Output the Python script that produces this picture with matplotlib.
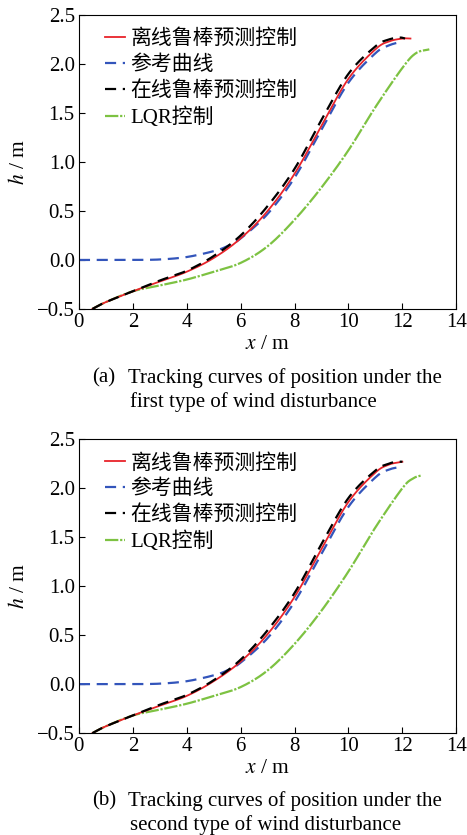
import numpy as np
import matplotlib.pyplot as plt

plt.rcParams['font.family'] = ['Liberation Serif', 'Noto Sans CJK SC']
plt.rcParams['mathtext.fontset'] = 'stix'

# panel (a) - first type of wind disturbance
ref_x_a = [0, 1, 2, 3, 4, 5, 5.5, 6, 7, 8, 9, 10, 11, 11.5, 12.0]
ref_h_a = [0, 0, 0, 0.005, 0.03, 0.09, 0.14, 0.22, 0.47, 0.84, 1.33, 1.81, 2.11, 2.19, 2.23]
off_x_a = [0.5, 1, 2, 3, 4, 5, 6, 7, 8, 9, 10, 11, 11.5, 12.0, 12.3]
off_h_a = [-0.5, -0.43, -0.32, -0.22, -0.12, 0.02, 0.22, 0.50, 0.88, 1.37, 1.85, 2.15, 2.23, 2.26, 2.26]
on_x_a = [0.5, 1, 2, 3, 4, 5, 6, 7, 8, 9, 10, 11, 11.5, 11.9, 12.1]
on_h_a = [-0.5, -0.43, -0.32, -0.21, -0.11, 0.04, 0.25, 0.55, 0.93, 1.43, 1.90, 2.18, 2.25, 2.27, 2.26]
lqr_x_a = [0.5, 1, 2, 3, 4, 5, 6, 7, 8, 9, 10, 11, 12, 12.5, 13.0]
lqr_h_a = [-0.5, -0.43, -0.32, -0.26, -0.20, -0.12, -0.03, 0.14, 0.41, 0.74, 1.12, 1.56, 1.96, 2.11, 2.15]

# panel (b) - second type of wind disturbance
ref_x_b = [0, 1, 2, 3, 4, 5, 5.5, 6, 7, 8, 9, 10, 11, 11.5, 12.0]
ref_h_b = [0, 0, 0, 0.005, 0.03, 0.09, 0.14, 0.22, 0.47, 0.84, 1.33, 1.81, 2.11, 2.19, 2.22]
off_x_b = [0.5, 1, 2, 3, 4, 5, 6, 7, 8, 9, 10, 11, 11.5, 11.8, 12.0]
off_h_b = [-0.5, -0.43, -0.32, -0.22, -0.12, 0.03, 0.23, 0.51, 0.89, 1.38, 1.86, 2.16, 2.24, 2.26, 2.27]
on_x_b = [0.5, 1, 2, 3, 4, 5, 6, 7, 8, 9, 10, 11, 11.5, 11.8, 12.0]
on_h_b = [-0.5, -0.43, -0.32, -0.21, -0.11, 0.04, 0.25, 0.55, 0.93, 1.43, 1.90, 2.18, 2.25, 2.27, 2.27]
lqr_x_b = [0.5, 1, 2, 3, 4, 5, 6, 7, 8, 9, 10, 11, 12, 12.4, 12.7]
lqr_h_b = [-0.5, -0.43, -0.32, -0.26, -0.20, -0.12, -0.03, 0.14, 0.41, 0.75, 1.15, 1.60, 2.00, 2.10, 2.13]

labels = ['离线鲁棒预测控制', '参考曲线', '在线鲁棒预测控制', 'LQR控制']
captions = [('(a)', 'Tracking curves of position under the', 'first type of wind disturbance'),
            ('(b)', 'Tracking curves of position under the', 'second type of wind disturbance')]


def smooth(x, y, n=20):
    # Catmull-Rom through the read-off points
    x = np.asarray(x, float)
    y = np.asarray(y, float)
    px = np.concatenate([[2 * x[0] - x[1]], x, [2 * x[-1] - x[-2]]])
    py = np.concatenate([[2 * y[0] - y[1]], y, [2 * y[-1] - y[-2]]])
    t = np.linspace(0, 1, n, endpoint=False)[:, None]
    out = []
    for p in (px, py):
        p0, p1, p2, p3 = p[:-3], p[1:-2], p[2:-1], p[3:]
        seg = 0.5 * (2 * p1 + (-p0 + p2) * t + (2 * p0 - 5 * p1 + 4 * p2 - p3) * t ** 2
                     + (-p0 + 3 * p1 - 3 * p2 + p3) * t ** 3)
        out.append(np.append(seg.T.ravel(), p[-2]))
    return out[0], out[1]


fig = plt.figure(figsize=(4.67, 8.35), dpi=100)
panels = [(ref_x_a, ref_h_a, off_x_a, off_h_a, on_x_a, on_h_a, lqr_x_a, lqr_h_a),
          (ref_x_b, ref_h_b, off_x_b, off_h_b, on_x_b, on_h_b, lqr_x_b, lqr_h_b)]
bottoms = [0.630, 0.122]
cap_y = [378, 801]

for i, (rx, rh, fx, fh, nx, nh, lx, lh) in enumerate(panels):
    ax = fig.add_axes([0.169, bottoms[i], 0.808, 0.352])
    ax.plot(*smooth(fx, fh), color='#e8232a', lw=1.3, label=labels[0], zorder=3)
    ax.plot(*smooth(rx, rh), color='#3355bb', lw=1.6, ls=(0, (5, 3)), label=labels[1], zorder=2)
    ax.plot(*smooth(nx, nh), color='black', lw=1.6, ls=(0, (5, 3)), label=labels[2], zorder=4)
    ax.plot(*smooth(lx, lh), color='#7dc242', lw=1.6, ls=(0, (6, 0.8, 1, 0.8)), label=labels[3], zorder=1)
    ax.set_xlim(0, 14)
    ax.set_ylim(-0.5, 2.5)
    ax.set_xticks(np.arange(0, 15, 2))
    ax.set_yticks(np.arange(-0.5, 2.6, 0.5))
    ax.set_yticklabels(['\u22120.5', '0.0', '0.5', '1.0', '1.5', '2.0', '2.5'])
    ax.tick_params(direction='in', labelsize=15, length=4, pad=3)
    ax.set_xlabel('$x$ / m', fontsize=15.5, labelpad=2)
    ax.set_ylabel('$h$ / m', fontsize=15.5, labelpad=6)
    ax.legend(loc='upper left', frameon=False, fontsize=15, handlelength=0.95,
              handletextpad=0.25, borderaxespad=0, borderpad=0, labelspacing=0.3,
              bbox_to_anchor=(0.07, 0.95))
    y1 = 1 - cap_y[i] / 835
    y2 = 1 - (cap_y[i] + 24) / 835
    fig.text(92 / 467, y1, captions[i][0], fontsize=15, va='center')
    fig.text(128 / 467, y1, captions[i][1], fontsize=15, va='center')
    fig.text(130 / 467, y2, captions[i][2], fontsize=15, va='center')

fig.savefig('out.png', dpi=100)
